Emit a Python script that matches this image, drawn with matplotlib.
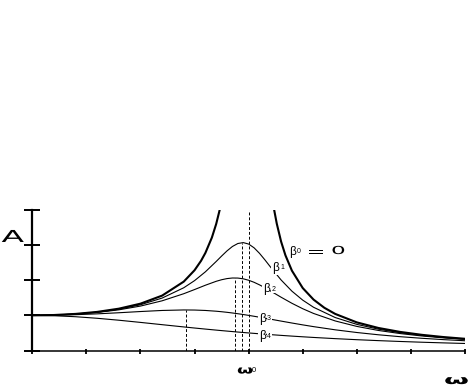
import matplotlib
matplotlib.use("Agg")
import matplotlib.pyplot as plt
from matplotlib.textpath import TextPath
from matplotlib.patches import PathPatch
from matplotlib.font_manager import FontProperties
from matplotlib.transforms import Affine2D

# driving frequency, in units of omega0
omega = [0, 0.1, 0.2, 0.3, 0.4, 0.5, 0.6, 0.7, 0.75, 0.8, 0.85, 0.875, 0.9, 0.925,
         0.95, 0.975, 1.0, 1.025, 1.05, 1.075, 1.1, 1.15, 1.2, 1.25, 1.3, 1.4, 1.5,
         1.6, 1.7, 1.8, 1.9, 2.0]

# amplitude (static amplitude = 1) for the damped curves
amp_b1 = [1.0, 1.0095, 1.0392, 1.0925, 1.1760, 1.3022, 1.4927, 1.7861, 1.9894, 2.2400,
          2.5345, 2.6889, 2.8362, 2.9615, 3.0458, 3.0720, 3.0303, 2.9238, 2.7674, 2.5814,
          2.3845, 2.0080, 1.6893, 1.4336, 1.2308, 0.9386, 0.7438, 0.6072, 0.5072, 0.4315,
          0.3725, 0.3255]
amp_b2 = [1.0, 1.0088, 1.0361, 1.0843, 1.1581, 1.2649, 1.4148, 1.6167, 1.7354, 1.8582,
          1.9702, 2.0148, 2.0472, 2.0640, 2.0622, 2.0409, 2.0, 1.9418, 1.8694, 1.7871,
          1.6986, 1.5169, 1.3440, 1.1893, 1.0549, 0.8417, 0.6860, 0.5704, 0.4825, 0.4142,
          0.3600, 0.3162]
amp_b3 = [1.0, 1.0050, 1.0198, 1.0436, 1.0748, 1.1094, 1.1399, 1.1546, 1.1517, 1.1399,
          1.1184, 1.1039, 1.0872, 1.0681, 1.0471, 1.0243, 1.0, 0.9744, 0.9479, 0.9206,
          0.8930, 0.8373, 0.7824, 0.7295, 0.6795, 0.5891, 0.5121, 0.4475, 0.3934, 0.3480,
          0.3098, 0.2774]
amp_b4 = [1.0, 0.9901, 0.9615, 0.9174, 0.8621, 0.8, 0.7353, 0.6711, 0.64, 0.6098,
          0.5806, 0.5664, 0.5525, 0.5389, 0.5256, 0.5127, 0.5, 0.4877, 0.4756, 0.4639,
          0.4525, 0.4306, 0.4098, 0.3902, 0.3717, 0.3378, 0.3077, 0.2809, 0.2571, 0.2358,
          0.2169, 0.2]

# undamped curve, both branches (cut at the top of the axes)
omega_b0_low = [0, 0.1, 0.2, 0.3, 0.4, 0.5, 0.6, 0.7, 0.75, 0.78, 0.8, 0.83, 0.85, 0.866]
amp_b0_low = [1.0, 1.0101, 1.0417, 1.0989, 1.1905, 1.3333, 1.5625, 1.9608, 2.2857,
              2.5536, 2.7778, 3.2144, 3.6036, 4.0]
omega_b0_high = [1.118, 1.13, 1.15, 1.17, 1.2, 1.25, 1.3, 1.35, 1.4, 1.5, 1.6, 1.7,
                 1.8, 1.9, 2.0]
amp_b0_high = [4.0, 3.6114, 3.1008, 2.7108, 2.2727, 1.7778, 1.4493, 1.2158, 1.0417,
               0.8, 0.641, 0.5291, 0.4464, 0.3831, 0.3333]

# resonance peaks of beta1..beta3
peak_omega = [0.97, 0.935, 0.71]
peak_amp = [3.072, 2.066, 1.155]

# curve labels: (x, y, subscript)
labels = [(1.186, 2.81, "0"), (1.107, 2.35, "1"), (1.066, 1.75, "2"),
          (1.047, 0.91, "3"), (1.047, 0.41, "4")]

W, H = 472, 388
fig = plt.figure(figsize=(W / 100, H / 100), dpi=100)
ax = fig.add_axes([32.3 / W, (H - 350.5) / H, (465 - 32.3) / W, (350.5 - 210) / H])

dash = (0, (3, 2))
ax.vlines(peak_omega, 0, peak_amp, colors="k", linestyles=dash, lw=0.7)
ax.vlines([1.0], 0, 4, colors="k", linestyles=dash, lw=0.7)

ax.plot(omega_b0_low, amp_b0_low, color="k", lw=1.5)
ax.plot(omega_b0_high, amp_b0_high, color="k", lw=1.5)
for amp in (amp_b1, amp_b2, amp_b3, amp_b4):
    ax.plot(omega, amp, color="k", lw=0.8)

ax.set_xlim(0, 2)
ax.set_ylim(0, 4)
ax.set_xticks([i * 0.25 for i in range(9)])
ax.set_yticks([0, 1, 2, 3, 4])
ax.tick_params(labelbottom=False, labelleft=False)
ax.tick_params(axis="y", direction="inout", length=11, width=1.4)
ax.tick_params(axis="x", direction="inout", length=3.6, width=1.3)
for s in ("top", "right"):
    ax.spines[s].set_visible(False)
ax.spines["left"].set_linewidth(1.6)
ax.spines["bottom"].set_linewidth(1.1)

white = dict(facecolor="white", edgecolor="none", pad=0.4)
for x, y, d in labels:
    ax.text(x, y, "β", fontsize=8.5, family="Liberation Sans", ha="left", va="center",
            bbox=white, zorder=5)
    ax.annotate(d, (x, y), xytext=(6, 0), textcoords="offset points", fontsize=5,
                family="Liberation Sans", ha="left", va="center", bbox=white, zorder=5)


def wide_text(s, x, y, size, sx, weight="normal"):
    # glyphs stretched sideways; x, y in pixels from bottom-left, baseline
    fp = FontProperties(family="DejaVu Sans", weight=weight)
    path = TextPath((0, 0), s, size=size, prop=fp)
    tr = Affine2D().scale(sx, 1.0).translate(x, y)
    fig.add_artist(PathPatch(path, transform=tr, facecolor="k", edgecolor="none"))


wide_text("=", 307, H - 257, 15, 1.5)
wide_text("0", 331, H - 254, 11, 2.1)
wide_text("A", 1.5, H - 242, 16.5, 2.0)
wide_text("ω", 237, H - 373.5, 11, 1.7, "bold")
fig.text(252 / W, (H - 371.5) / H, "0", fontsize=5.5, family="Liberation Sans",
         ha="left", va="baseline")
wide_text("ω", 444, H - 384, 12.5, 2.3, "bold")

fig.savefig("out.png", dpi=100)
